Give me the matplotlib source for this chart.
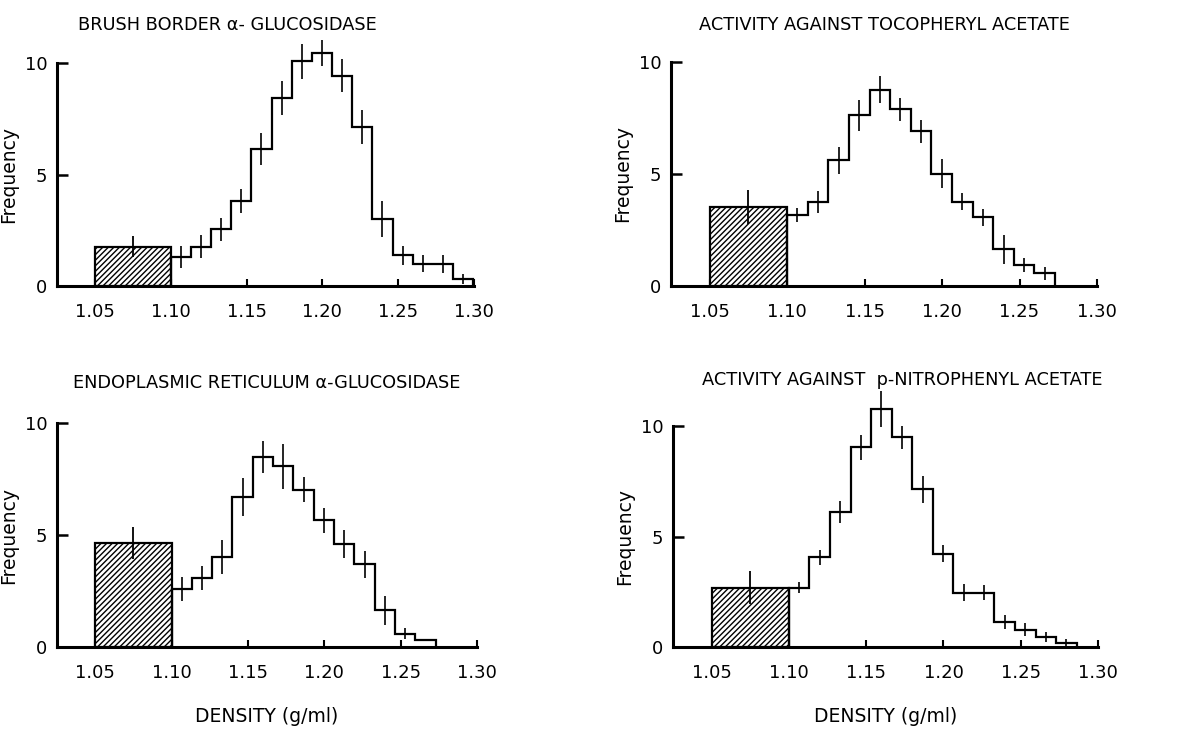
import numpy as np
import matplotlib
matplotlib.use("Agg")
import matplotlib.pyplot as plt

plt.rcParams['font.family'] = ['DejaVu Sans']
plt.rcParams['hatch.linewidth'] = 1.0

# width of the density bins to the right of 1.10
BIN_W = 0.0133

titles = [
    "BRUSH BORDER α- GLUCOSIDASE",
    "ACTIVITY AGAINST TOCOPHERYL ACETATE",
    "ENDOPLASMIC RETICULUM α-GLUCOSIDASE",
    "ACTIVITY AGAINST  p-NITROPHENYL ACETATE",
]

# hatched light fraction (1.05 - 1.10): value and error
light_vals = [1.77, 3.54, 4.64, 2.69]
light_errs = [0.45, 0.75, 0.70, 0.75]

# frequencies of the bins from 1.10 upward
brush_vals = [1.29, 1.77, 2.54, 3.82, 6.15, 8.43, 10.07, 10.45, 9.43, 7.13, 2.99, 1.38, 0.99, 0.99, 0.30]
brush_errs = [0.50, 0.52, 0.50, 0.55, 0.72, 0.75, 0.80, 0.58, 0.75, 0.78, 0.80, 0.42, 0.38, 0.40, 0.22]

toco_vals = [3.16, 3.76, 5.62, 7.62, 8.77, 7.88, 6.91, 5.02, 3.76, 3.06, 1.63, 0.94, 0.56]
toco_errs = [0.30, 0.50, 0.60, 0.68, 0.60, 0.52, 0.52, 0.65, 0.38, 0.38, 0.63, 0.30, 0.30]

er_vals = [2.59, 3.08, 4.02, 6.70, 8.48, 8.07, 7.02, 5.65, 4.60, 3.69, 1.64, 0.60, 0.30]
er_errs = [0.52, 0.52, 0.75, 0.85, 0.70, 1.00, 0.55, 0.55, 0.63, 0.60, 0.65, 0.25, 0.00]

pnp_vals = [2.69, 4.05, 6.12, 9.03, 10.77, 9.49, 7.13, 4.23, 2.45, 2.45, 1.13, 0.79, 0.45, 0.18]
pnp_errs = [0.26, 0.34, 0.50, 0.55, 0.82, 0.52, 0.60, 0.40, 0.38, 0.34, 0.30, 0.30, 0.23, 0.20]

series_vals = [brush_vals, toco_vals, er_vals, pnp_vals]
series_errs = [brush_errs, toco_errs, er_errs, pnp_errs]

x_ticks = [1.05, 1.10, 1.15, 1.20, 1.25, 1.30]
x_ticklabels = ["1.05", "1.10", "1.15", "1.20", "1.25", "1.30"]
y_ticks = [0, 5, 10]

W, H = 1191, 732
fig = plt.figure(figsize=(W / 100, H / 100), dpi=100)

# axes boxes in pixels: left, right, top(10), bottom(0)
boxes = [(57, 474, 63, 286), (671, 1097, 62, 286), (57, 477, 423, 647), (673, 1098, 426, 647)]
title_x = [0.408, 0.5, 0.5, 0.539]
title_gap = [33, 32, 35, 41]

for i in range(4):
    l, r, t, b = boxes[i]
    ax = fig.add_axes([l / W, (H - b) / H, (r - l) / W, (b - t) / H])
    ax.set_xlim(1.025, 1.30)
    ax.set_ylim(0, 10)

    # hatched light fraction
    ax.bar(1.075, light_vals[i], width=0.05, facecolor='white', edgecolor='black',
           hatch='//////', linewidth=1.6, zorder=2)
    ax.errorbar([1.075], [light_vals[i]], yerr=[light_errs[i]], fmt='none',
                ecolor='black', elinewidth=1.3, capsize=0, zorder=3)

    vals = np.array(series_vals[i])
    edges = 1.10 + BIN_W * np.arange(len(vals) + 1)
    centers = (edges[:-1] + edges[1:]) / 2
    ax.stairs(vals, edges, baseline=0, color='black', linewidth=1.6, zorder=3, clip_on=False)
    ax.errorbar(centers, vals, yerr=series_errs[i], fmt='none', ecolor='black',
                elinewidth=1.2, capsize=0, zorder=3, clip_on=False)

    for s in ['top', 'right']:
        ax.spines[s].set_visible(False)
    for s in ['left', 'bottom']:
        ax.spines[s].set_linewidth(2.2)

    ax.set_xticks(x_ticks)
    ax.set_xticklabels(x_ticklabels)
    ax.set_yticks(y_ticks)
    ax.tick_params(axis='x', direction='in', length=5, width=1.5, pad=12, labelsize=13)
    ax.tick_params(axis='y', direction='in', length=8, width=1.8, pad=7, labelsize=13)
    ax.set_ylabel("Frequency", fontsize=13.5, labelpad=5)

    ax.text(title_x[i], 1 + title_gap[i] / (b - t), titles[i], transform=ax.transAxes,
            ha='center', va='baseline', fontsize=12.8)

    if i >= 2:
        ax.set_xlabel("DENSITY (g/ml)", fontsize=13.5, labelpad=18)

fig.savefig("out.png", dpi=100)
